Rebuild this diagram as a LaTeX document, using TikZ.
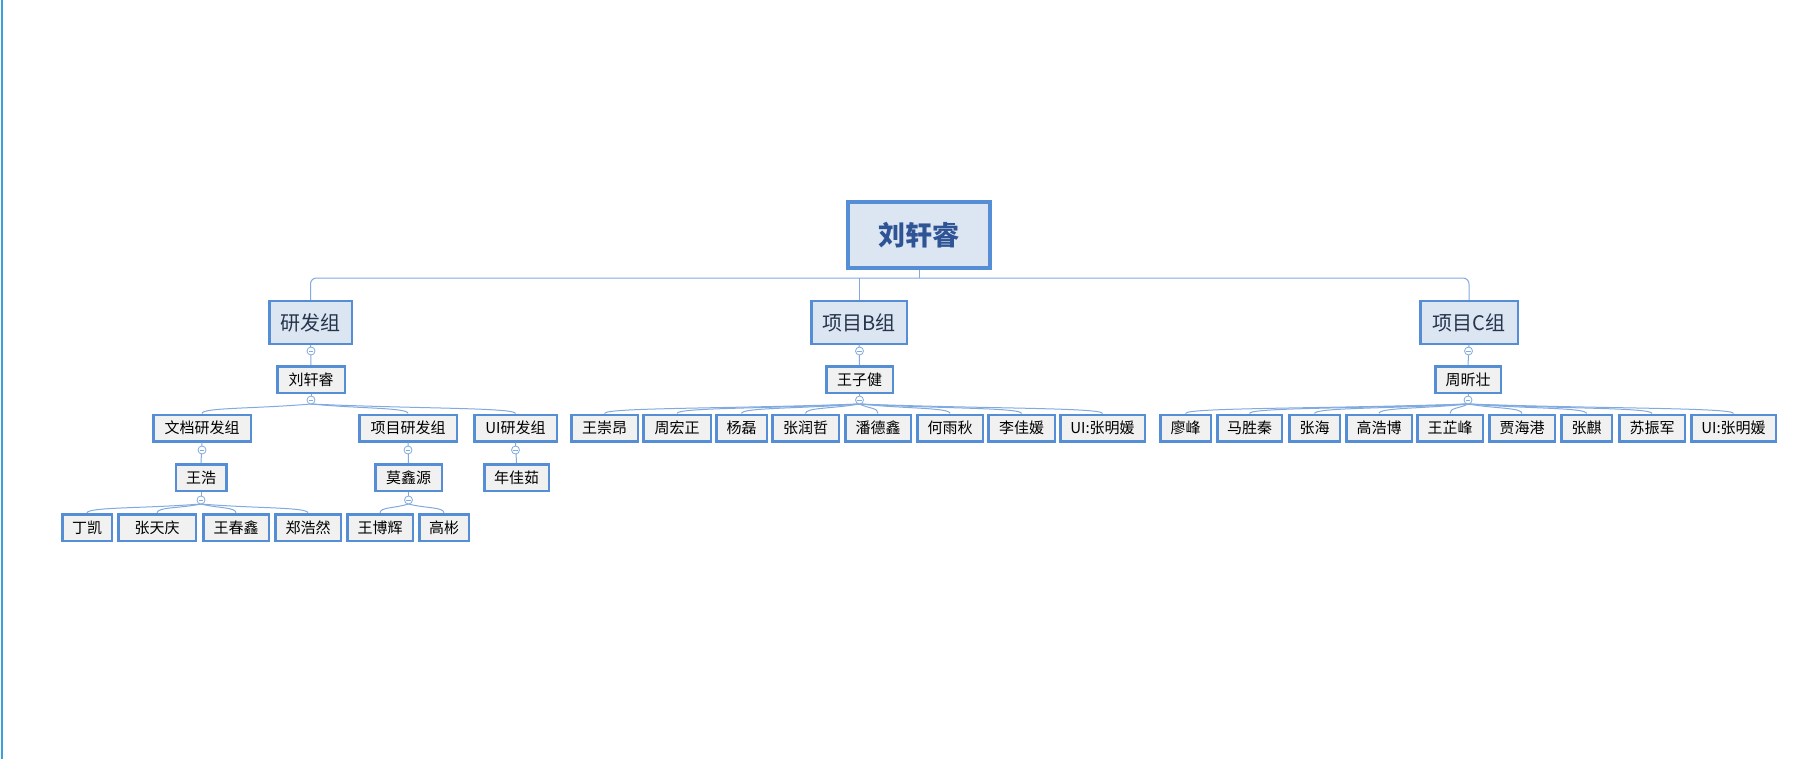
\documentclass[tikz,border=0pt]{standalone}
\usepackage{fontspec}
\setmainfont{Noto Sans CJK SC}
\usetikzlibrary{calc}
\definecolor{boxline}{RGB}{85,142,213}
\definecolor{headfill}{RGB}{220,230,242}
\definecolor{leaffill}{RGB}{241,241,241}
\definecolor{linkc}{RGB}{128,170,224}
\definecolor{roottext}{RGB}{47,84,150}
\definecolor{headtext}{RGB}{38,52,76}
\definecolor{edgec}{RGB}{59,160,220}
\tikzset{
  rootbox/.style={draw=boxline, fill=headfill, line width=4pt, inner sep=0pt,
    minimum height=66pt, font=\fontsize{27}{30}\selectfont\bfseries, text=roottext},
  groupbox/.style={draw=boxline, fill=headfill, line width=2.5pt, inner sep=0pt,
    minimum height=43pt, font=\fontsize{20}{23}\selectfont, text=headtext},
  leaf/.style={draw=boxline, fill=leaffill, line width=2.5pt, inner sep=0pt,
    minimum height=26.5pt, font=\fontsize{15}{18}\selectfont, text=black},
  link/.style={draw=linkc, line width=1pt},
  fold/.style={circle, draw=linkc, fill=white, line width=0.8pt, minimum size=8pt, inner sep=0pt,
    path picture={\draw[linkc, line width=0.8pt]
      ([xshift=-2.3pt]path picture bounding box.center) -- ([xshift=2.3pt]path picture bounding box.center);}},
}
\begin{document}
\begin{tikzpicture}[x=1pt, y=-1pt]
\useasboundingbox (0,0) rectangle (1819,759);
\fill[white] (0,0) rectangle (1819,759);
\draw[edgec, line width=2pt] (2,0) -- (2,759);

% root and groups
\node[rootbox, minimum width=142pt] (root) at (919,235) {刘轩睿};
\node[groupbox, minimum width=82.5pt] (rd) at (310.5,322.5) {研发组};
\node[groupbox, minimum width=95.5pt] (pb) at (859,322.5) {项目B组};
\node[groupbox, minimum width=97.5pt] (pc) at (1469,322.5) {项目C组};

% group leaders
\node[leaf, minimum width=67.5pt] (a) at (311,379.5) {刘轩睿};
\node[leaf, minimum width=66.5pt] (b) at (859.5,379.5) {王子健};
\node[leaf, minimum width=65.5pt] (c) at (1468,379.5) {周昕壮};

% third level
\node[leaf, minimum width=97.5pt] (a1) at (202,428) {文档研发组};
\node[leaf, minimum width=97.5pt] (a2) at (408,428) {项目研发组};
\node[leaf, minimum width=82.5pt] (a3) at (515.5,428) {UI研发组};

\node[leaf, minimum width=66.5pt] (b1) at (604.5,428) {王崇昂};
\node[leaf, minimum width=67.5pt] (b2) at (677,428) {周宏正};
\node[leaf, minimum width=50.5pt] (b3) at (741.5,428) {杨磊};
\node[leaf, minimum width=66.5pt] (b4) at (805.5,428) {张润哲};
\node[leaf, minimum width=65.5pt] (b5) at (878,428) {潘德鑫};
\node[leaf, minimum width=65.5pt] (b6) at (950,428) {何雨秋};
\node[leaf, minimum width=66.5pt] (b7) at (1021.5,428) {李佳媛};
\node[leaf, minimum width=84.5pt] (b8) at (1102.5,428) {UI:张明媛};

\node[leaf, minimum width=50.5pt] (c1) at (1185.5,428) {廖峰};
\node[leaf, minimum width=64.5pt] (c2) at (1249.5,428) {马胜秦};
\node[leaf, minimum width=50.5pt] (c3) at (1314.5,428) {张海};
\node[leaf, minimum width=65.5pt] (c4) at (1379,428) {高浩博};
\node[leaf, minimum width=65.5pt] (c5) at (1450,428) {王芷峰};
\node[leaf, minimum width=65.5pt] (c6) at (1522,428) {贾海港};
\node[leaf, minimum width=50.5pt] (c7) at (1586.5,428) {张麒};
\node[leaf, minimum width=65.5pt] (c8) at (1652,428) {苏振军};
\node[leaf, minimum width=84.5pt] (c9) at (1733.5,428) {UI:张明媛};

% fourth level
\node[leaf, minimum width=50.5pt] (wh) at (201,477.5) {王浩};
\node[leaf, minimum width=66.5pt] (mx) at (408.5,477.5) {莫鑫源};
\node[leaf, minimum width=64.5pt] (nj) at (516.5,477.5) {年佳茹};

% fifth level
\node[leaf, minimum width=49.5pt] (d1) at (87,527.5) {丁凯};
\node[leaf, minimum width=77.5pt] (d2) at (157,527.5) {张天庆\hspace{10pt}};
\node[leaf, minimum width=65.5pt] (d3) at (236,527.5) {王春鑫};
\node[leaf, minimum width=65.5pt] (d4) at (308,527.5) {郑浩然};
\node[leaf, minimum width=65.5pt] (e1) at (380,527.5) {王博辉};
\node[leaf, minimum width=49.5pt] (e2) at (444,527.5) {高彬};

% fold markers (centres) and the points under them where fans start
\coordinate (rdF) at (311,351);
\coordinate (pbF) at (859.5,351);
\coordinate (pcF) at (1468.5,351);
\coordinate (aF) at (311,400);   \coordinate (aS) at (311,404);
\coordinate (bF) at (859.5,400); \coordinate (bS) at (859.5,404);
\coordinate (cF) at (1468,400);  \coordinate (cS) at (1468,404);
\coordinate (a1F) at (202,450);
\coordinate (a2F) at (408,450);
\coordinate (a3F) at (515.5,450);
\coordinate (whF) at (201,500);  \coordinate (whS) at (201,504);
\coordinate (mxF) at (408.5,500); \coordinate (mxS) at (408.5,504);

% root to groups
\coordinate (j) at (919,278);
\draw[link] (root.south) -- (j);
\draw[link, rounded corners=6pt] (rd.north) |- (j) -| (pc.north);
\draw[link] (pb.north) -- (pb.north |- j);

% straight single-child links
\draw[link] (rd.south) -- (a.north);
\draw[link] (pb.south) -- (b.north);
\draw[link] (pc.south) -- (c.north);
\draw[link] (a1.south) -- (wh.north);
\draw[link] (a2.south) -- (mx.north);
\draw[link] (a3.south) -- (nj.north);
\draw[link] (a.south) -- (aF);
\draw[link] (b.south) -- (bF);
\draw[link] (c.south) -- (cF);
\draw[link] (wh.south) -- (whF);
\draw[link] (mx.south) -- (mxF);

% fans to several children: nearly straight, hooking down onto each box
\foreach \s/\list in {aS/{a1,a2,a3}, bS/{b1,b2,b3,b4,b5,b6,b7,b8},
    cS/{c1,c2,c3,c4,c5,c6,c7,c8,c9}, whS/{d1,d2,d3,d4}, mxS/{e1,e2}}
  \foreach \k in \list
    \draw[link] (\s) .. controls ($(\s)!0.5!(\k.north)$) and ($(\k.north)+(0,-6)$) .. (\k.north);

% fold markers
\foreach \f in {rdF,pbF,pcF,aF,bF,cF,a1F,a2F,a3F,whF,mxF}
  \node[fold] at (\f) {};
\end{tikzpicture}
\end{document}
